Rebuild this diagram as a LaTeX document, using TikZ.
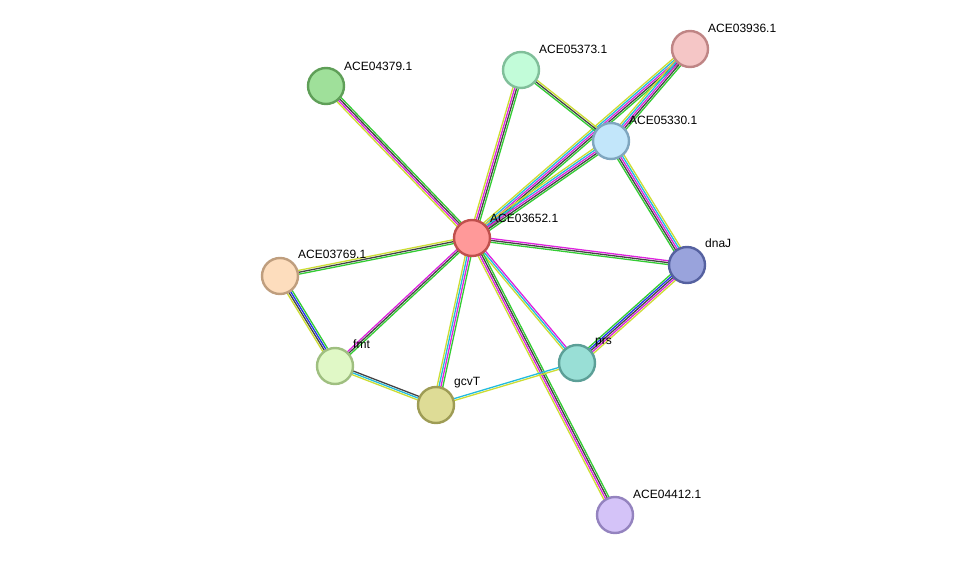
\documentclass[tikz,border=0pt]{standalone}
\usepackage{fontspec}
\setmainfont{Liberation Sans}
\usetikzlibrary{calc,backgrounds}
\definecolor{nb}{HTML}{33CC33}
\definecolor{cx}{HTML}{444444}
\definecolor{ex}{HTML}{DD22DD}
\definecolor{db}{HTML}{22BBDD}
\definecolor{tm}{HTML}{CCDD33}
\definecolor{co}{HTML}{2233EE}
\newcommand\stredge[4]{%
  \foreach \c [count=\i] in {#4} {
    \pgfmathsetmacro\o{(\i-(#3+1)/2)*1.9}
    \draw[\c, line width=1.3pt] ($(#1)!\o pt!90:(#2)$) -- ($(#2)!\o pt!-90:(#1)$);
  }}
\begin{document}
\begin{tikzpicture}[x=1pt,y=-1pt,
    protein/.style={circle, line width=2.4pt, minimum size=36pt, inner sep=0pt},
    lbl/.style={font=\fontsize{12}{13}\selectfont, anchor=south west, inner sep=0pt}]
   \useasboundingbox (0,0) rectangle (975,561);
   \node[protein, fill={rgb,255:red,255;green,153;blue,153}, draw={rgb,255:red,192;green,80;blue,77}] (hub) at (472,238) {};
   \node[protein, fill={rgb,255:red,159;green,224;blue,154}, draw={rgb,255:red,95;green,159;blue,88}] (p4379) at (326,86) {};
   \node[protein, fill={rgb,255:red,194;green,252;blue,217}, draw={rgb,255:red,128;green,191;blue,154}] (p5373) at (521,70) {};
   \node[protein, fill={rgb,255:red,245;green,198;blue,198}, draw={rgb,255:red,191;green,133;blue,133}] (p3936) at (690,49) {};
   \node[protein, fill={rgb,255:red,194;green,230;blue,250}, draw={rgb,255:red,127;green,166;blue,191}] (p5330) at (611,141) {};
   \node[protein, fill={rgb,255:red,153;green,163;blue,220}, draw={rgb,255:red,85;green,97;blue,160}] (dnaJ) at (687,265) {};
   \node[protein, fill={rgb,255:red,253;green,221;blue,189}, draw={rgb,255:red,191;green,158;blue,126}] (p3769) at (280,276) {};
   \node[protein, fill={rgb,255:red,224;green,248;blue,198}, draw={rgb,255:red,159;green,191;blue,128}] (fmt) at (335,366) {};
   \node[protein, fill={rgb,255:red,222;green,220;blue,150}, draw={rgb,255:red,158;green,156;blue,85}] (gcvT) at (436,405) {};
   \node[protein, fill={rgb,255:red,153;green,223;blue,214}, draw={rgb,255:red,92;green,159;blue,151}] (prs) at (577,363) {};
   \node[protein, fill={rgb,255:red,212;green,195;blue,248}, draw={rgb,255:red,148;green,131;blue,191}] (p4412) at (615,515) {};

   \node[lbl] (lhub) at (490,223) {ACE03652.1};
   \node[lbl] (l4379) at (344,71) {ACE04379.1};
   \node[lbl] (l5373) at (539,54) {ACE05373.1};
   \node[lbl] (l3936) at (708,33) {ACE03936.1};
   \node[lbl] (l5330) at (629,125) {ACE05330.1};
   \node[lbl] (ldnaJ) at (705,248) {dnaJ};
   \node[lbl] (l3769) at (298,259) {ACE03769.1};
   \node[lbl] (lfmt) at (353,349) {fmt};
   \node[lbl] (lgcvT) at (454,388) {gcvT};
   \node[lbl] (lprs) at (595,347) {prs};
   \node[lbl] (l4412) at (633,499) {ACE04412.1};

   \begin{scope}[on background layer]
   \stredge{hub}{p4379}{4}{nb,cx,ex,tm}
   \stredge{hub}{p5373}{4}{nb,cx,ex,tm}
   \stredge{hub}{p3936}{5}{nb,cx,ex,db,tm}
   \stredge{hub}{p5330}{5}{nb,cx,ex,db,tm}
   \stredge{p5373}{p5330}{3}{nb,cx,tm}
   \stredge{p5330}{p3936}{5}{nb,cx,ex,db,tm}
   \stredge{p5330}{dnaJ}{5}{nb,cx,ex,db,tm}
   \stredge{hub}{dnaJ}{3}{nb,cx,ex}
   \stredge{hub}{p3769}{3}{tm,cx,nb}
   \stredge{p3769}{fmt}{4}{tm,cx,co,nb}
   \stredge{hub}{fmt}{3}{ex,cx,nb}
   \stredge{hub}{gcvT}{4}{tm,db,ex,nb}
   \stredge{hub}{prs}{3}{tm,db,ex}
   \stredge{hub}{p4412}{4}{tm,ex,cx,nb}
   \stredge{fmt}{gcvT}{3}{tm,db,cx}
   \stredge{gcvT}{prs}{2}{tm,db}
   \stredge{prs}{dnaJ}{5}{tm,ex,cx,co,nb}
   \end{scope}
\end{tikzpicture}
\end{document}
